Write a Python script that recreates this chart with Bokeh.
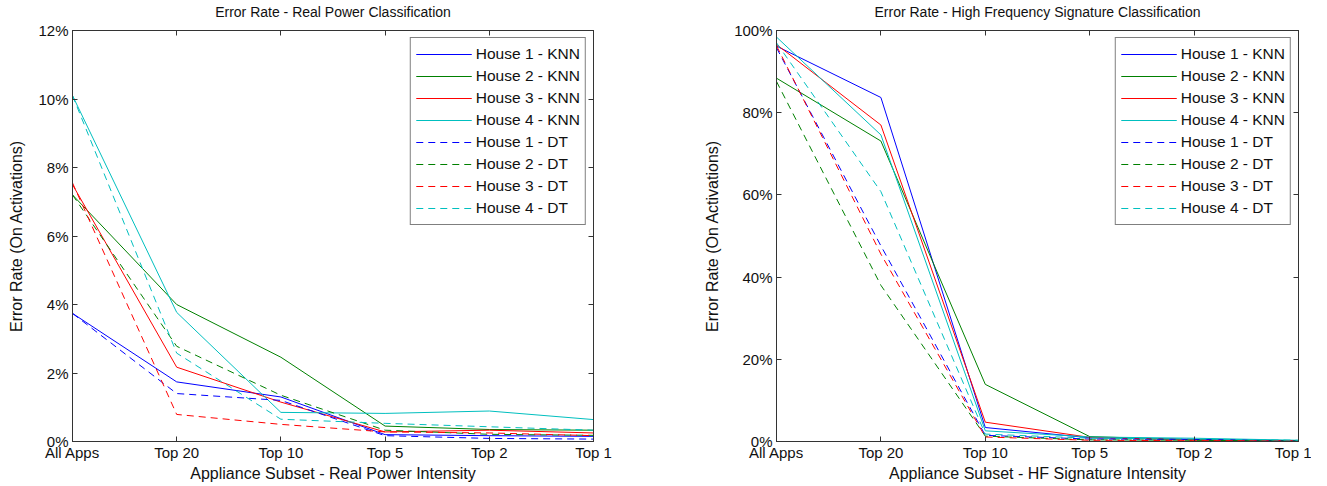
from bokeh.plotting import figure
from bokeh.layouts import row
from bokeh.models import FixedTicker, PrintfTickFormatter, LinearAxis, Range1d
from bokeh.embed import file_html
from bokeh.resources import INLINE

# ---------------- data ----------------
subsets = ["All Apps", "Top 20", "Top 10", "Top 5", "Top 2", "Top 1"]
series_names = ["House 1 - KNN", "House 2 - KNN", "House 3 - KNN", "House 4 - KNN",
                "House 1 - DT", "House 2 - DT", "House 3 - DT", "House 4 - DT"]

# Real power classification error rate (%)
rp_h1_knn = [3.74, 1.74, 1.30, 0.20, 0.17, 0.15]
rp_h2_knn = [7.20, 4.00, 2.46, 0.45, 0.35, 0.33]
rp_h3_knn = [7.50, 2.17, 1.15, 0.28, 0.33, 0.25]
rp_h4_knn = [10.10, 3.77, 0.85, 0.82, 0.89, 0.64]
rp_h1_dt = [3.74, 1.40, 1.20, 0.17, 0.09, 0.07]
rp_h2_dt = [7.20, 2.78, 1.35, 0.33, 0.21, 0.18]
rp_h3_dt = [7.55, 0.79, 0.50, 0.28, 0.25, 0.17]
rp_h4_dt = [10.10, 2.58, 0.65, 0.53, 0.43, 0.33]

# High frequency signature classification error rate (%)
hf_h1_knn = [96.2, 83.7, 3.4, 0.9, 0.5, 0.2]
hf_h2_knn = [88.4, 73.1, 13.9, 1.2, 0.4, 0.2]
hf_h3_knn = [96.6, 77.0, 4.7, 1.0, 0.4, 0.1]
hf_h4_knn = [98.4, 74.6, 2.6, 1.1, 0.8, 0.3]
hf_h1_dt = [95.8, 47.6, 1.5, 0.6, 0.5, 0.1]
hf_h2_dt = [87.6, 38.0, 1.3, 0.4, 0.3, 0.1]
hf_h3_dt = [96.3, 45.6, 1.1, 0.3, 0.2, 0.2]
hf_h4_dt = [97.0, 60.8, 1.8, 0.8, 0.6, 0.3]

rp_ticks = [0, 2, 4, 6, 8, 10, 12]
hf_ticks = [0, 20, 40, 60, 80, 100]

# ---------------- style ----------------
COLORS = ["#0000FF", "#008000", "#FF0000", "#00BFBF"]
FONT = "Liberation Sans"
AXC = "#333333"
TXT = "#111111"


def make_plot(title, xlabel, series, yticks, width, bl, br):
    xs = list(range(len(subsets)))
    p = figure(width=width, height=486, output_backend="svg", toolbar_location=None,
               x_range=Range1d(0, len(subsets) - 1), y_range=Range1d(yticks[0], yticks[-1]),
               min_border_left=bl, min_border_right=br, min_border_top=30, min_border_bottom=45)
    p.grid.visible = False
    p.outline_line_color = AXC
    p.outline_line_alpha = 1
    p.background_fill_color = "white"
    p.border_fill_color = "white"

    for i, (name, ys) in enumerate(zip(series_names, series)):
        kw = dict(line_color=COLORS[i % 4], line_width=1, legend_label=name)
        if i >= 4:
            kw["line_dash"] = "7 5"
        p.line(xs, ys, **kw)

    p.xaxis.ticker = FixedTicker(ticks=xs)
    p.xaxis.major_label_overrides = {i: s for i, s in enumerate(subsets)}
    p.yaxis.ticker = FixedTicker(ticks=yticks)
    p.yaxis.formatter = PrintfTickFormatter(format="%d%%")
    p.xaxis.axis_label = xlabel
    p.yaxis.axis_label = "Error Rate (On Activations)"
    for ax in (p.xaxis[0], p.yaxis[0]):
        ax.major_tick_in = 5
        ax.major_tick_out = 0
        ax.minor_tick_line_color = None
        ax.axis_line_color = AXC
        ax.major_tick_line_color = AXC
        ax.major_label_text_font = FONT
        ax.major_label_text_font_size = "15px"
        ax.major_label_text_color = TXT
        ax.axis_label_text_font = FONT
        ax.axis_label_text_font_size = "16px"
        ax.axis_label_text_font_style = "normal"
        ax.axis_label_text_color = TXT
    p.xaxis.major_label_standoff = 2
    p.xaxis.axis_label_standoff = 1
    p.yaxis.major_label_standoff = 4
    p.yaxis.axis_label_standoff = 10

    # box-style tick marks on the top and right edges; the top one carries the title
    top = LinearAxis(ticker=FixedTicker(ticks=xs),
                     major_label_overrides={i: "" for i in xs},
                     major_label_text_font_size="1px", major_label_standoff=0,
                     major_tick_in=5, major_tick_out=0, minor_tick_line_color=None,
                     axis_line_color=AXC, major_tick_line_color=AXC,
                     axis_label=title, axis_label_standoff=11,
                     axis_label_text_font=FONT, axis_label_text_font_size="14px",
                     axis_label_text_font_style="normal", axis_label_text_color=TXT)
    right = LinearAxis(ticker=FixedTicker(ticks=yticks),
                       major_label_overrides={t: "" for t in yticks},
                       major_label_text_font_size="1px", major_label_standoff=0,
                       major_tick_in=5, major_tick_out=0, minor_tick_line_color=None,
                       axis_line_color=AXC, major_tick_line_color=AXC)
    p.add_layout(top, "above")
    p.add_layout(right, "right")

    lg = p.legend[0]
    lg.location = "top_right"
    lg.margin = 7
    lg.padding = 5
    lg.spacing = 0
    lg.label_height = 22
    lg.glyph_height = 22
    lg.glyph_width = 56
    lg.label_standoff = 4
    lg.label_text_font = FONT
    lg.label_text_font_size = "15.5px"
    lg.label_text_color = TXT
    lg.border_line_color = "black"
    lg.border_line_width = 1
    lg.background_fill_alpha = 1
    return p


p1 = make_plot("Error Rate - Real Power Classification",
               "Appliance Subset - Real Power Intensity",
               [rp_h1_knn, rp_h2_knn, rp_h3_knn, rp_h4_knn, rp_h1_dt, rp_h2_dt, rp_h3_dt, rp_h4_dt],
               rp_ticks, 690, 72, 97)
p2 = make_plot("Error Rate - High Frequency Signature Classification",
               "Appliance Subset - HF Signature Intensity",
               [hf_h1_knn, hf_h2_knn, hf_h3_knn, hf_h4_knn, hf_h1_dt, hf_h2_dt, hf_h3_dt, hf_h4_dt],
               hf_ticks, 621, 86, 13)

layout = row(p1, p2, spacing=0)
open("out.html", "w").write(file_html(layout, INLINE))
